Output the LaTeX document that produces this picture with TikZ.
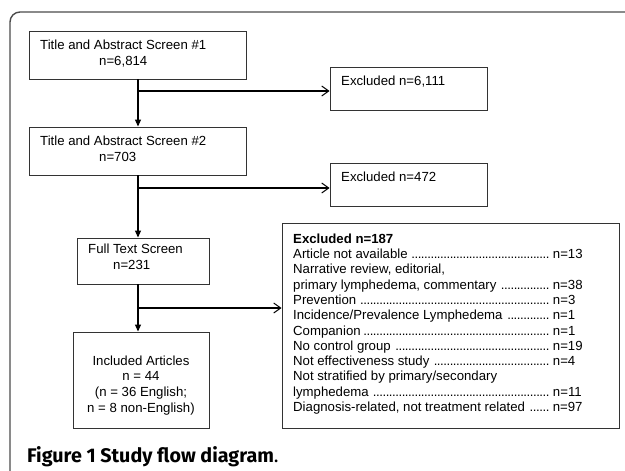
\documentclass[tikz,border=0pt]{standalone}
\usepackage{fontspec}
\setmainfont{Liberation Sans}
\newfontfamily\capfont{Fira Sans}
\usetikzlibrary{arrows.meta}

\newcommand{\dotlead}{\leaders\hbox to 3.2pt{\hss.\hss}\hfill}
\newcommand{\exrow}[2]{\hbox to 256pt{#1\hskip 2.5pt\dotlead}\ n=#2}

\begin{document}
\begin{tikzpicture}[x=1pt,y=-1pt,
  box/.style={draw=black!80, line width=0.9pt, inner sep=0pt},
  txt/.style={inner sep=0pt, align=left, font=\fontsize{13.2}{16.3}\selectfont},
  down/.style={line width=1.1pt, -{Triangle[length=7pt,width=6pt]}},
  side/.style={line width=1.1pt, -{Straight Barb[length=7pt,width=10pt,line width=1pt]}}]
\useasboundingbox (0,0) rectangle (625,471);
\draw[black!70, line width=1.4pt, rounded corners=10pt] (10,471) -- (10,12) -- (625,12);

\node[box, minimum width=217pt, minimum height=48pt] (s1) at (138,55) {};
\node[box, minimum width=217pt, minimum height=48pt] (s2) at (138,151) {};
\node[box, minimum width=132pt, minimum height=46pt] (s3) at (143,261) {};
\node[box, minimum width=136pt, minimum height=96pt] (inc) at (141,380) {};
\node[box, minimum width=157pt, minimum height=43pt] (x1) at (408.5,88.5) {};
\node[box, minimum width=157pt, minimum height=43pt] (x2) at (408.5,184.5) {};
\node[box, minimum width=337pt, minimum height=205pt] (x3) at (450.5,325.5) {};

\node[txt, anchor=north west] (s1t) at (40,39.5) {Title and Abstract Screen \#1\\\hspace*{59pt}n=6,814};
\node[txt, anchor=north west] (s2t) at (40,135.5) {Title and Abstract Screen \#2\\\hspace*{59pt}n=703};
\node[txt, anchor=north west] (s3t) at (88,243.5) {Full Text Screen\\\hspace*{25pt}n=231};
\node[txt, anchor=north, align=center, font=\fontsize{13.2}{15.7}\selectfont] (inct) at (141,355.5)
  {Included Articles\\n = 44\\(n = 36 English;\\n = 8 non-English)};
\node[txt, anchor=north west] (x1t) at (341,75.5) {Excluded n=6,111};
\node[txt, anchor=north west] (x2t) at (341,171.5) {Excluded n=472};
\node[txt, anchor=north west, font=\fontsize{13.2}{15.3}\selectfont] (x3t) at (293,233.5) {%
  \textbf{Excluded n=187}\\
  \exrow{Article not available}{13}\\
  Narrative review, editorial,\\
  \exrow{primary lymphedema, commentary}{38}\\
  \exrow{Prevention}{3}\\
  \exrow{Incidence/Prevalence Lymphedema}{1}\\
  \exrow{Companion}{1}\\
  \exrow{No control group}{19}\\
  \exrow{Not effectiveness study}{4}\\
  Not stratified by primary/secondary\\
  \exrow{lymphedema}{11}\\
  \exrow{Diagnosis-related, not treatment related}{97}};

\coordinate (b1) at (138,91);
\coordinate (b2) at (138,188);
\coordinate (b3) at (138,308);
\path[draw,down] (s1) -- (s2);
\path[draw,down] (s2.south) -- (s2.south |- s3.north);
\path[draw,down] (s3.south -| b3) -- (b3 |- inc.north);
\path[draw,side] (b1) -- (b1 -| x1.west);
\path[draw,side] (b2) -- (b2 -| x2.west);
\path[draw,side] (b3) -- (b3 -| x3.west);

\node[anchor=base west, inner sep=0pt, font=\capfont\fontsize{19.7}{23}\selectfont] (cap) at (27,462)
  {\textbf{Figure 1 Study flow diagram}.};
\end{tikzpicture}
\end{document}
